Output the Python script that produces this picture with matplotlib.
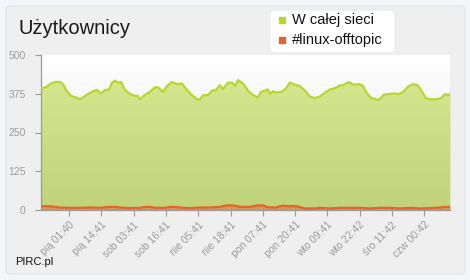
import numpy as np
import matplotlib
matplotlib.use("Agg")
import matplotlib.pyplot as plt
from matplotlib.patches import FancyBboxPatch
from matplotlib.lines import Line2D
from matplotlib.colors import LinearSegmentedColormap

plt.rcParams['font.family'] = ['Liberation Sans', 'DejaVu Sans']

# ---- data ----
hours_all = [0.0, 2.0, 3.6, 5.6, 7.6, 8.9, 10.1, 12.1, 14.1, 15.7, 16.9, 18.9, 20.9, 22.5,
             24.1, 25.8, 27.4, 28.6, 29.8, 31.0, 32.2, 33.8, 35.8, 37.8, 39.0, 39.8, 41.8,
             43.9, 45.9, 47.1, 49.1, 50.7, 52.7, 54.7, 56.7, 58.8, 60.8, 62.8, 64.0, 65.2,
             67.2, 68.8, 70.4, 72.0, 73.2, 75.3, 76.9, 78.1, 79.3, 80.9, 82.1, 83.3, 85.3,
             87.3, 88.5, 90.1, 91.3, 92.1, 93.4, 94.6, 96.6, 98.2, 100.2, 102.2, 104.2,
             106.2, 108.2, 110.3, 112.3, 114.3, 116.3, 118.3, 120.3, 121.5, 122.7, 123.9,
             125.9, 128.0, 129.6, 130.8, 132.8, 134.0, 136.0, 138.0, 140.0, 142.0, 144.1,
             145.7, 147.7, 149.7, 151.7, 152.9, 154.9, 156.9, 159.0, 161.0, 162.6, 163.8, 164.6]
users_all = [393, 396, 406, 413, 413, 406, 387, 368, 363, 357, 363, 374, 383, 387,
             376, 387, 389, 411, 417, 411, 413, 387, 374, 368, 368, 357, 371,
             382, 396, 396, 381, 400, 413, 406, 408, 387, 370, 357, 357, 370,
             371, 385, 387, 403, 390, 411, 411, 400, 419, 411, 400, 385, 371,
             363, 381, 385, 389, 374, 383, 379, 381, 389, 411, 404, 400,
             385, 366, 361, 366, 379, 389, 393, 402, 402, 408, 413,
             404, 406, 400, 381, 361, 359, 355, 372, 374, 376, 374,
             381, 398, 406, 402, 387, 361, 357, 357, 361, 374, 370, 374]

hours_chan = [0.0, 3.6, 5.6, 7.6, 11.7, 15.7, 19.7, 23.7, 25.8, 27.8, 29.8, 31.8, 35.8,
              39.8, 41.8, 43.9, 45.9, 49.9, 51.9, 53.9, 55.9, 59.9, 63.9, 67.9, 72.0,
              74.0, 76.0, 78.1, 80.1, 84.1, 87.3, 89.3, 91.3, 94.2, 97.4, 99.4, 101.4,
              103.4, 106.2, 110.3, 112.3, 116.3, 120.3, 124.3, 128.4, 132.4, 136.4,
              140.4, 144.5, 148.5, 152.5, 156.5, 160.6, 162.6, 164.6]
users_chan = [12, 12, 10, 8, 7, 7, 8, 7, 9, 10, 10, 8, 6,
              7, 10, 10, 7, 7, 10, 10, 8, 6, 8, 8, 10,
              14, 15, 14, 10, 10, 15, 15, 9, 8, 14, 12, 13,
              11, 5, 5, 7, 5, 7, 7, 7, 5, 7,
              7, 5, 7, 5, 6, 8, 10, 10]

tick_hours = [11.27 + 13 * k for k in range(12)]
tick_labels = ['pią 01:40', 'pią 14:41', 'sob 03:41', 'sob 16:41', 'nie 05:41', 'nie 18:41',
               'pon 07:41', 'pon 20:41', 'wto 09:41', 'wto 22:42', 'śro 11:42', 'czw 00:42']
y_ticks = [0, 125, 250, 375, 500]
series_names = ['W całej sieci', '#linux-offtopic']

# ---- figure ----
fig = plt.figure(figsize=(4.7, 2.8), dpi=100)
fig.patch.set_facecolor('#f4f5f9')
panel = FancyBboxPatch((6 / 470, 6 / 280), 459 / 470, 268 / 280,
                       boxstyle='round,pad=0,rounding_size=0.012',
                       transform=fig.transFigure, facecolor='#efefef',
                       edgecolor='#e2e3e6', linewidth=0.8, zorder=-10)
fig.patches.append(panel)

ax = fig.add_axes([41 / 470, 1 - 210 / 280, 409 / 470, 155 / 280])
ax.set_zorder(1)
ax.set_facecolor('#efefef')
xmin, xmax = hours_all[0], hours_all[-1]
ax.set_xlim(xmin, xmax)
ax.set_ylim(0, 500)

# background gradient (white at top)
bg = LinearSegmentedColormap.from_list('bg', ['#efefef', '#f1f1f1', '#ffffff'])
grad = np.linspace(0, 1, 256).reshape(-1, 1)
ax.imshow(grad, extent=[xmin, xmax, 0, 500], origin='lower', aspect='auto',
          cmap=bg, zorder=0, vmin=0, vmax=1)

# green area with gradient
poly = ax.fill_between(hours_all, users_all, 0, color='#cfe088', linewidth=0, zorder=1)
gcm = LinearSegmentedColormap.from_list('g', ['#c1d37a', '#d5e78e'])
im = ax.imshow(grad, extent=[xmin, xmax, 0, 420], origin='lower', aspect='auto',
               cmap=gcm, zorder=1.5)
im.set_clip_path(poly.get_paths()[0], transform=ax.transData)
ax.plot(hours_all, users_all, color='#b9d532', linewidth=1.6, zorder=3)

# channel area
ax.fill_between(hours_chan, users_chan, 0, color='#d09a58', linewidth=0, zorder=2)
ax.plot(hours_chan, users_chan, color='#e5622a', linewidth=1.6, zorder=3)

ax.set_yticks(y_ticks)
ax.set_yticklabels([str(v) for v in y_ticks])
ax.set_xticks(tick_hours)
ax.set_xticklabels(tick_labels, rotation=45, ha='right', rotation_mode='anchor')
ax.tick_params(axis='both', colors='#999999', labelcolor='#9a9a9a', labelsize=7.5,
               length=4, width=0.8, direction='out')
ax.tick_params(axis='y', pad=7)
ax.tick_params(axis='x', pad=3)
for s in ['top', 'right']:
    ax.spines[s].set_visible(False)
for s in ['left', 'bottom']:
    ax.spines[s].set_color('#999999')
    ax.spines[s].set_linewidth(0.9)

# title
fig.text(18 / 470, 1 - 28 / 280, 'Użytkownicy', fontsize=14.5, color='#1a1a1a',
         ha='left', va='center')
fig.text(15 / 470, 1 - 262 / 280, 'PIRC.pl', fontsize=8, color='#111111',
         ha='left', va='center')

# legend
lbox = FancyBboxPatch((270 / 470, 1 - 53 / 280), 125 / 470, 43 / 280,
                      boxstyle='round,pad=0,rounding_size=0.015',
                      transform=fig.transFigure, facecolor='white',
                      edgecolor='#e6e6e6', linewidth=0.6, zorder=5)
fig.patches.append(lbox)
colors = ['#b9d532', '#e5622a']
for i, (name, c) in enumerate(zip(series_names, colors)):
    yy = 1 - (20 + 20 * i) / 280
    fig.lines.append(Line2D([282 / 470], [yy], marker='s', markersize=4.2, color=c,
                            linestyle='none', transform=fig.transFigure, zorder=6))
    fig.text(292 / 470, yy, name, fontsize=10.5, color='#111111', ha='left',
             va='center', zorder=6)

fig.savefig('out.png', dpi=100, facecolor=fig.get_facecolor())
